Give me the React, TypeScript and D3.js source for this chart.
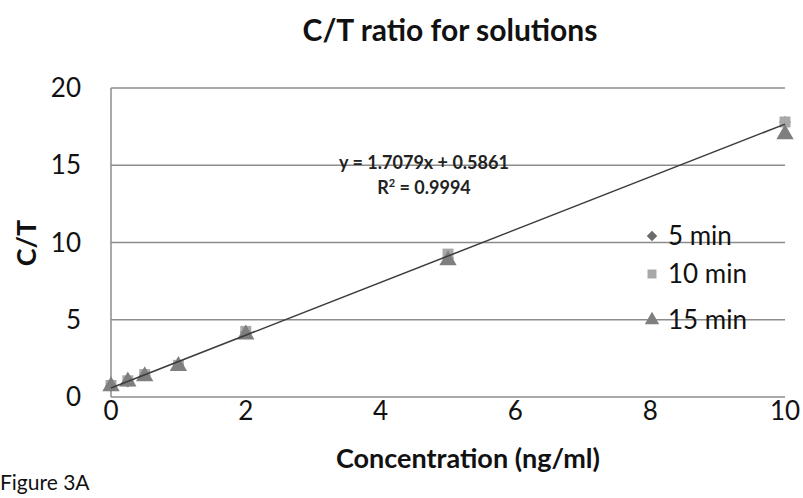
import React, { useEffect, useRef } from "react";
import * as d3 from "d3";

const concentrations = [0, 0.25, 0.5, 1, 2, 5, 10];
const min5 = [0.72, 1.0, 1.4, 2.1, 4.2, 9.0, 17.8];
const min10 = [0.75, 1.05, 1.45, 2.05, 4.25, 9.25, 17.8];
const min15 = [0.7, 1.0, 1.35, 2.0, 4.05, 8.85, 17.0];
const seriesNames = ["5 min", "10 min", "15 min"];
const xTicks = [0, 2, 4, 6, 8, 10];
const yTicks = [0, 5, 10, 15, 20];
const slope = 1.7079;
const intercept = 0.5861;

const App = () => {
  const ref = useRef<SVGSVGElement>(null);

  useEffect(() => {
    const width = 803;
    const height = 498;
    const font = "Lato, 'Open Sans', sans-serif";
    const svg = d3.select(ref.current);
    svg.selectAll("*").remove();
    svg.attr("width", width).attr("height", height);

    const x = d3.scaleLinear().domain([0, 10]).range([111, 785]);
    const y = d3.scaleLinear().domain([0, 20]).range([397, 88]);

    // gridlines
    svg
      .append("g")
      .selectAll("line")
      .data(yTicks)
      .enter()
      .append("line")
      .attr("x1", x(0))
      .attr("x2", x(10))
      .attr("y1", (d) => y(d))
      .attr("y2", (d) => y(d))
      .attr("stroke", "#8c8c8c")
      .attr("stroke-width", 1.5);

    svg
      .append("line")
      .attr("x1", x(0))
      .attr("x2", x(0))
      .attr("y1", y(0))
      .attr("y2", y(20))
      .attr("stroke", "#8c8c8c")
      .attr("stroke-width", 1.5);

    // tick labels
    svg
      .append("g")
      .selectAll("text")
      .data(yTicks)
      .enter()
      .append("text")
      .attr("x", 81)
      .attr("y", (d) => y(d) + 9)
      .attr("text-anchor", "end")
      .style("font-family", font)
      .style("font-size", "26px")
      .attr("fill", "#111")
      .text((d) => d);

    svg
      .append("g")
      .selectAll("text")
      .data(xTicks)
      .enter()
      .append("text")
      .attr("x", (d) => x(d))
      .attr("y", 420)
      .attr("text-anchor", "middle")
      .style("font-family", font)
      .style("font-size", "26px")
      .attr("fill", "#111")
      .text((d) => d);

    // markers (diamond = rotated square)
    const symbols = [d3.symbolSquare, d3.symbolSquare, d3.symbolTriangle];
    const rotations = [45, 0, 0];
    const colors = ["#6b6b6b", "#a8a8a8", "#7f7f7f"];
    const sizes = [70, 120, 130];
    const all = [min5, min10, min15];
    all.forEach((vals, i) => {
      const sym = d3.symbol().type(symbols[i]).size(sizes[i]);
      svg
        .append("g")
        .selectAll("path")
        .data(vals)
        .enter()
        .append("path")
        .attr("d", sym)
        .attr(
          "transform",
          (d, j) => "translate(" + x(concentrations[j]) + "," + y(d) + ") rotate(" + rotations[i] + ")"
        )
        .attr("fill", colors[i]);
    });

    // trendline
    const line = d3
      .line<number>()
      .x((d) => x(d))
      .y((d) => y(slope * d + intercept));
    svg
      .append("path")
      .datum([0, 10])
      .attr("d", line)
      .attr("fill", "none")
      .attr("stroke", "#3c3c3c")
      .attr("stroke-width", 1.5);

    // equation
    svg
      .append("text")
      .attr("x", 424)
      .attr("y", 169)
      .attr("text-anchor", "middle")
      .style("font-family", font)
      .style("font-size", "18px")
      .style("font-weight", "bold")
      .attr("fill", "#222")
      .text("y = " + slope + "x + " + intercept);
    const r2 = svg
      .append("text")
      .attr("x", 424)
      .attr("y", 194)
      .attr("text-anchor", "middle")
      .style("font-family", font)
      .style("font-size", "18px")
      .style("font-weight", "bold")
      .attr("fill", "#222");
    r2.append("tspan").text("R");
    r2.append("tspan").attr("dy", -7).style("font-size", "11px").text("2");
    r2.append("tspan").attr("dy", 7).text(" = 0.9994");

    // legend
    const legendY = [236, 274, 320];
    const legendSizes = [55, 80, 90];
    seriesNames.forEach((name, i) => {
      svg
        .append("path")
        .attr("d", d3.symbol().type(symbols[i]).size(legendSizes[i])())
        .attr("transform", "translate(652," + legendY[i] + ") rotate(" + rotations[i] + ")")
        .attr("fill", colors[i]);
      svg
        .append("text")
        .attr("x", 668)
        .attr("y", legendY[i] + 9)
        .style("font-family", font)
        .style("font-size", "26px")
        .attr("fill", "#111")
        .text(name);
    });

    // titles
    svg
      .append("text")
      .attr("x", 450)
      .attr("y", 41)
      .attr("text-anchor", "middle")
      .style("font-family", font)
      .style("font-size", "30px")
      .style("font-weight", "bold")
      .attr("fill", "#111")
      .text("C/T ratio for solutions");

    svg
      .append("text")
      .attr("x", 468)
      .attr("y", 468)
      .attr("text-anchor", "middle")
      .style("font-family", font)
      .style("font-size", "27px")
      .style("font-weight", "bold")
      .attr("fill", "#111")
      .text("Concentration (ng/ml)");

    svg
      .append("text")
      .attr("transform", "translate(36,243) rotate(-90)")
      .attr("text-anchor", "middle")
      .style("font-family", font)
      .style("font-size", "27px")
      .style("font-weight", "bold")
      .attr("fill", "#111")
      .text("C/T");

    svg
      .append("text")
      .attr("x", 0)
      .attr("y", 490)
      .style("font-family", font)
      .style("font-size", "21px")
      .attr("fill", "#111")
      .text("Figure 3A");
  }, []);

  return (
    <div style={{ position: "fixed", left: 0, top: 0, background: "#fff" }}>
      <svg ref={ref} style={{ display: "block" }}></svg>
    </div>
  );
};

export default App;
